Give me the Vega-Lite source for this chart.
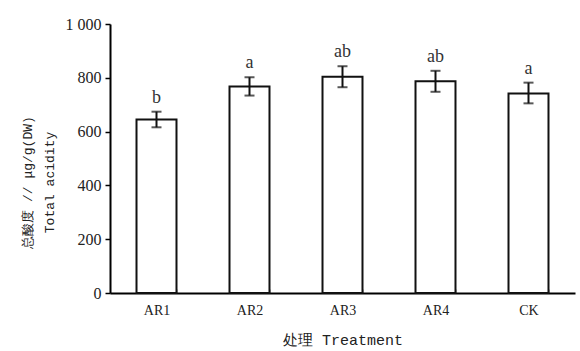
{
  "$schema": "https://vega.github.io/schema/vega-lite/v6.json",
  "autosize": "none",
  "width": 465,
  "height": 269,
  "padding": {"left": 110, "top": 24, "right": 5, "bottom": 58},
  "background": "white",
  "config": {
    "view": {"stroke": null},
    "font": "Liberation Serif",
    "axis": {"grid": false, "domainColor": "black", "tickColor": "black", "labelColor": "#222", "titleColor": "#222", "labelFont": "Liberation Serif", "titleFont": "Liberation Mono", "titleFontWeight": "normal"}
  },
  "data": {"values": [
    {"trt": "AR1", "mean": 645, "lo": 616, "hi": 674, "sig": "b"},
    {"trt": "AR2", "mean": 768, "lo": 734, "hi": 802, "sig": "a"},
    {"trt": "AR3", "mean": 804, "lo": 765, "hi": 843, "sig": "ab"},
    {"trt": "AR4", "mean": 787, "lo": 748, "hi": 826, "sig": "ab"},
    {"trt": "CK", "mean": 742, "lo": 705, "hi": 782, "sig": "a"}
  ]},
  "encoding": {
    "x": {"field": "trt", "type": "nominal", "sort": null,
      "scale": {"paddingInner": 0.57, "paddingOuter": 0.285},
      "axis": {"title": "处理 Treatment", "labelAngle": 0, "labelFontSize": 14, "titleFontSize": 15, "labelPadding": 14, "titlePadding": 15, "domainWidth": 2, "tickBand": "extent", "tickSize": -4, "tickWidth": 1.5}}
  },
  "layer": [
    {
      "mark": {"type": "bar", "fill": "white", "stroke": "#111", "strokeWidth": 2},
      "encoding": {
        "y": {"field": "mean", "type": "quantitative",
          "scale": {"domain": [0, 1000], "nice": false},
          "axis": {"values": [0, 200, 400, 600, 800, 1000], "format": "d",
            "labelExpr": "datum.value == 1000 ? '1 000' : datum.label",
            "labelFontSize": 16, "labelPadding": 4, "tickSize": 5, "tickWidth": 1.5, "domainWidth": 2,
            "title": ["总酸度 // μg/g(DW)", "Total acidity"], "titleFontSize": 13, "titleX": -76, "titleY": 158, "titleLineHeight": 22}}
      }
    },
    {
      "mark": {"type": "rule", "color": "#111", "strokeWidth": 2},
      "encoding": {"y": {"field": "lo", "type": "quantitative"}, "y2": {"field": "hi"}}
    },
    {
      "mark": {"type": "tick", "color": "#111", "thickness": 2, "size": 10},
      "encoding": {"y": {"field": "lo", "type": "quantitative"}}
    },
    {
      "mark": {"type": "tick", "color": "#111", "thickness": 2, "size": 10},
      "encoding": {"y": {"field": "hi", "type": "quantitative"}}
    },
    {
      "mark": {"type": "text", "baseline": "bottom", "dy": -5, "fontSize": 18, "color": "#333"},
      "encoding": {"y": {"field": "hi", "type": "quantitative"}, "text": {"field": "sig"}}
    }
  ]
}
